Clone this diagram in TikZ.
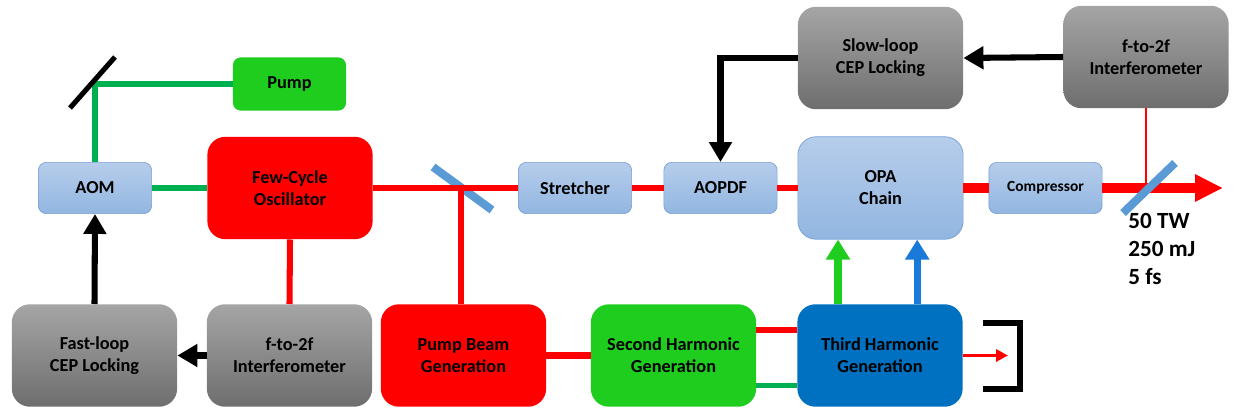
\documentclass[tikz,border=0pt]{standalone}
\usepackage{fontspec}
\setmainfont{Carlito}
\usetikzlibrary{arrows.meta}
\definecolor{bluetop}{RGB}{182,205,235}
\definecolor{bluebot}{RGB}{146,182,225}
\definecolor{blueedge}{RGB}{118,160,214}
\definecolor{greytop}{RGB}{165,165,165}
\definecolor{greybot}{RGB}{110,110,110}
\definecolor{beamred}{RGB}{255,0,0}
\definecolor{boxgreen}{RGB}{30,205,30}
\definecolor{linegreen}{RGB}{0,176,80}
\definecolor{thgblue}{RGB}{0,112,192}
\definecolor{upblue}{RGB}{25,122,218}
\definecolor{splitblue}{RGB}{91,155,213}

\begin{document}
\begin{tikzpicture}[x=0.025cm,y=-0.025cm,
  box/.style={align=center,inner sep=0pt,font=\bfseries\fontsize{13}{15.6}\selectfont},
  small/.style={box,minimum width=2.83cm,minimum height=1.28cm,rounded corners=0.2cm},
  large/.style={box,minimum width=4.13cm,minimum height=2.56cm,rounded corners=0.45cm},
  bluebox/.style={top color=bluetop,bottom color=bluebot,draw=blueedge,line width=0.5pt},
  greybox/.style={top color=greytop,bottom color=greybot},
  redbox/.style={fill=beamred},
  greenbox/.style={fill=boxgreen},
  beam/.style={beamred,line width=4.3pt},
  thickbeam/.style={beamred,line width=7.6pt},
  thinbeam/.style={beamred,line width=1.8pt},
  greenbeam/.style={linegreen,line width=3.6pt},
  feedback/.style={black,line width=4.3pt,-{Triangle[length=0.5cm,width=0.55cm]}},
  harmonic/.style={line width=5pt,-{Triangle[length=0.5cm,width=0.58cm]}},
  mirror/.style={line width=3.6pt},
  splitter/.style={splitblue,line width=5.8pt}
]
\useasboundingbox (0,0) rectangle (1234,412);

% upper row
\node[small,bluebox] (aom) at (95,188) {AOM};
\node[small,greenbox,minimum height=1.33cm] (pump) at (289.5,84) {Pump};
\node[large,redbox] (osc) at (290,188) {Few-Cycle\\Oscillator};
\node[small,bluebox] (stretch) at (575,188) {Stretcher};
\node[small,bluebox] (aopdf) at (720.5,188) {AOPDF};
\node[large,bluebox] (opa) at (880.5,188) {OPA\\Chain};
\node[small,bluebox,font=\bfseries\fontsize{11}{13}\selectfont] (comp) at (1045.5,188) {Compressor};
\node[large,greybox] (slow) at (880.5,58) {Slow-loop\\CEP Locking};
\node[large,greybox] (ftop) at (1146,57) {f-to-2f\\Interferometer};
% lower row
\node[large,greybox] (fast) at (94.5,355.5) {Fast-loop\\CEP Locking};
\node[large,greybox] (fbot) at (289.5,355.5) {f-to-2f\\Interferometer};
\node[large,redbox] (pbg) at (463.5,355.5) {Pump Beam\\Generation};
\node[large,greenbox] (shg) at (673.5,355.5) {Second Harmonic\\Generation};
\node[large,fill=thgblue] (thg) at (880,355.5) {Third Harmonic\\Generation};
\node[anchor=west,align=left,inner sep=0pt,font=\bfseries\fontsize{16.5}{19.9}\selectfont] (spec) at (1128,249) {50 TW\\250 mJ\\5 fs};

\coordinate (split) at (461,188);
\coordinate (exit) at (1223,188);
\coordinate (dump) at (1008,355.5);

\draw[splitter] (433,167) -- (492,210);
\draw[beam] (osc.east) -- (stretch.west);
\draw[beam] (stretch.east) -- (aopdf.west);
\draw[beam] (aopdf.east) -- (opa.west);
\draw[beam] (split) -- (split |- pbg.north);
\draw[beam] (osc.south) -- (fbot.north);
\draw[beam] (pbg.east) -- (shg.west);
\draw[beam] ([yshift=0.64cm]shg.east) -- ([yshift=0.64cm]thg.west);
\draw[greenbeam] ([yshift=-0.76cm]shg.east) -- ([yshift=-0.76cm]thg.west);
\draw[greenbeam] (aom.east) -- (osc.west);
\draw[greenbeam] (pump.west) -- (aom.north |- pump.west) -- (aom.north);
\draw[mirror] (70,108) -- (115,57);
\draw[thickbeam] (opa.east) -- (comp.west);
\draw[thickbeam,-{Triangle[length=0.7cm,width=0.64cm]}] (comp.east) -- (exit);
\draw[thinbeam] (ftop.south) -- (ftop.south |- comp.east);
\draw[splitter] (1123,213) -- (1175,163);

\draw[feedback] (fast.north) -- (aom.south);
\draw[feedback] (fbot.west) -- (fast.east);
\draw[feedback] (ftop.west) -- (slow.east);
\draw[feedback] (slow.west) -| (aopdf.north);
\draw[harmonic,boxgreen] ([xshift=-1.05cm]thg.north) -- ([xshift=-1.05cm]thg.north |- opa.south);
\draw[harmonic,upblue] ([xshift=0.93cm]thg.north) -- ([xshift=0.93cm]thg.north |- opa.south);
\draw[thinbeam,line width=2.6pt,-{Triangle[length=0.3cm,width=0.3cm]}] (thg.east) -- (dump);
\draw[line width=3.8pt] (983,323) -| (1020,389) -- (983,389);
\end{tikzpicture}
\end{document}
